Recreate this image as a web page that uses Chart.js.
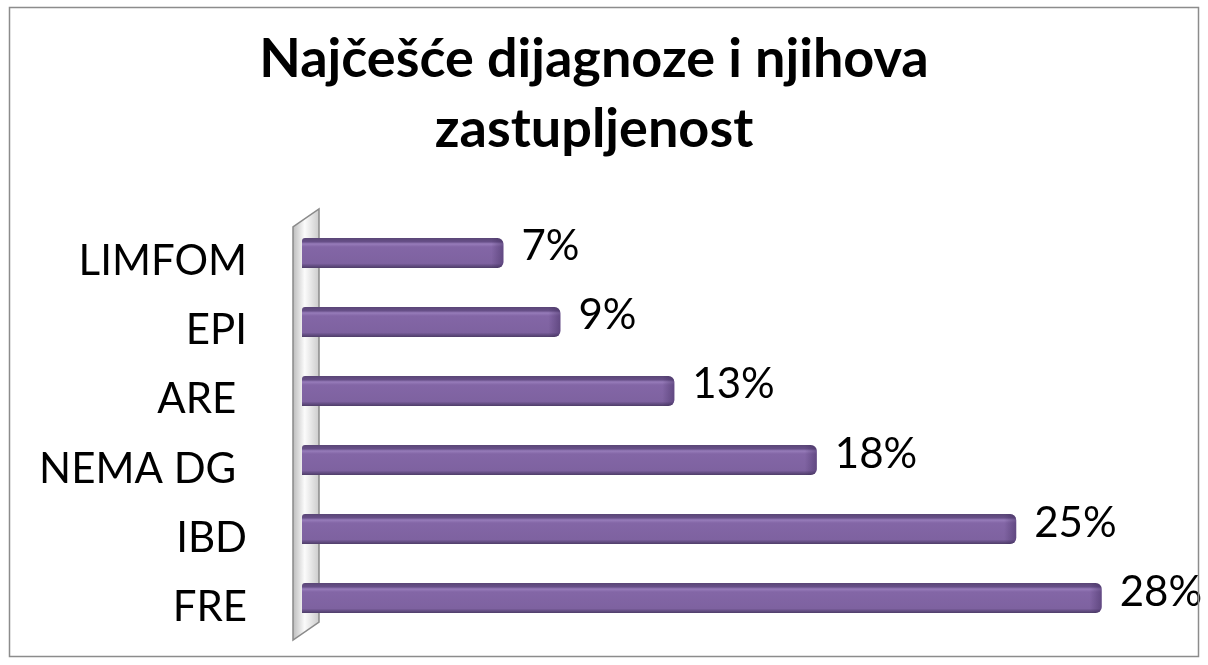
<!DOCTYPE html>
<html>
<head>
<meta charset="utf-8">
<script src="https://cdn.jsdelivr.net/npm/chart.js@4.4.1/dist/chart.umd.min.js"></script>
<style>
  html, body { margin: 0; padding: 0; background: #fff; }
  #okvir { width: 1208px; height: 665px; }
</style>
</head>
<body>
<div id="okvir"><canvas id="dijagnoze"></canvas></div>
<script>
const kategorije = ['LIMFOM', 'EPI', 'ARE ', 'NEMA DG ', 'IBD', 'FRE'];
const postoci = [7, 9, 13, 18, 25, 28];
const naslov = ['Najčešće dijagnoze i njihova', 'zastupljenost'];

Chart.defaults.font.family = 'Lato, "Open Sans", sans-serif';
Chart.defaults.color = '#000';

const dijagnoze = document.getElementById('dijagnoze').getContext('2d');

// okvir oko grafikona
const okvirPlugin = {
    id: 'okvir',
    afterDraw(chart) {
        const c = chart.ctx;
        c.save();
        c.strokeStyle = '#8c8c8c';
        c.lineWidth = 1.5;
        c.strokeRect(9.5, 7.5, 1189, 649);
        c.restore();
    }
};

// 3D "zid" iza stupaca
const zidPlugin = {
    id: 'zid',
    beforeDatasetsDraw(chart) {
        const a = chart.chartArea;
        const c = chart.ctx;
        const l = a.left - 9, r = a.left + 17;
        c.save();
        c.beginPath();
        c.moveTo(l, a.top + 8.5);
        c.lineTo(r, a.top - 9.5);
        c.lineTo(r, a.bottom - 10.5);
        c.lineTo(l, a.bottom + 7.5);
        c.closePath();
        const g = c.createLinearGradient(l, 0, r, 0);
        g.addColorStop(0, '#bdbdbd');
        g.addColorStop(0.45, '#fbfbfb');
        g.addColorStop(1, '#cccccc');
        c.fillStyle = g;
        c.fill();
        c.strokeStyle = '#8a8a8a';
        c.lineWidth = 1.5;
        c.stroke();
        c.restore();
    }
};

// sjencanje stupaca i oznake postotaka
const stupciPlugin = {
    id: 'stupci',
    afterDatasetsDraw(chart) {
        const c = chart.ctx;
        const meta = chart.getDatasetMeta(0);
        c.save();
        meta.data.forEach((el, i) => {
            const p = el.getProps(['x', 'y', 'base', 'height'], true);
            const top = p.y - p.height / 2, bot = p.y + p.height / 2;
            const left = p.base, right = p.x + 2;
            const g = c.createLinearGradient(0, top, 0, bot);
            g.addColorStop(0, '#5a4676');
            g.addColorStop(0.13, '#674f88');
            g.addColorStop(0.2, '#977cba');
            g.addColorStop(0.3, '#8366a6');
            g.addColorStop(0.85, '#7e62a0');
            g.addColorStop(0.93, '#634d82');
            g.addColorStop(1, '#4f3e69');
            c.beginPath();
            c.roundRect(left, top, right - left, bot - top, [3, 6, 6, 0]);
            c.fillStyle = g;
            c.fill();
            const k = c.createLinearGradient(right - 12, 0, right, 0);
            k.addColorStop(0, 'rgba(60,40,90,0)');
            k.addColorStop(1, 'rgba(60,40,90,0.45)');
            c.fillStyle = k;
            c.fill();

            c.fillStyle = '#000';
            c.font = '42px Lato, "Open Sans", sans-serif';
            c.textAlign = 'left';
            c.textBaseline = 'middle';
            c.fillText(postoci[i] + '%', right + 18, p.y - 6);
        });
        c.restore();
    }
};

new Chart(dijagnoze, {
    type: 'bar',
    data: {
        labels: kategorije,
        datasets: [{
            data: postoci,
            backgroundColor: 'rgba(0,0,0,0)',
            borderWidth: 0,
            categoryPercentage: 1,
            barPercentage: 0.435
        }]
    },
    options: {
        indexAxis: 'y',
        responsive: true,
        maintainAspectRatio: false,
        animation: false,
        layout: {
            padding: { left: 0, right: 20, top: 0, bottom: 32.5 }
        },
        scales: {
            x: {
                display: false,
                min: 0,
                max: 31.1
            },
            y: {
                border: { display: false },
                grid: { display: false, drawTicks: false },
                ticks: {
                    padding: 55,
                    labelOffset: 9,
                    font: { size: 42 }
                },
                afterFit(scale) {
                    scale.width = 302;
                    scale.paddingTop = 0;
                    scale.paddingBottom = 0;
                }
            }
        },
        plugins: {
            legend: {
                display: false
            },
            tooltip: { enabled: false },
            title: {
                display: true,
                text: naslov,
                font: { size: 54, weight: 'bold', lineHeight: 1.3 },
                padding: { top: 24, bottom: 54 }
            }
        }
    },
    plugins: [zidPlugin, stupciPlugin, okvirPlugin]
});
</script>
</body>
</html>
